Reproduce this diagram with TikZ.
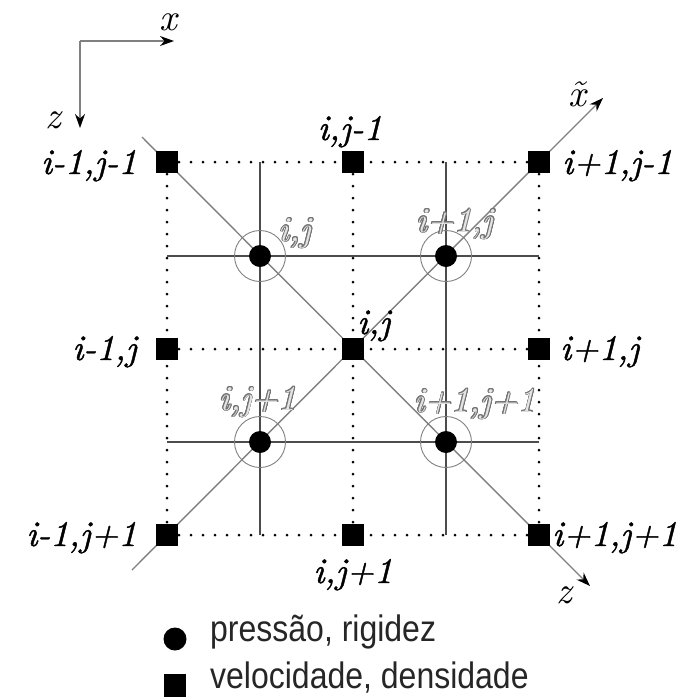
\documentclass[tikz,border=0pt]{standalone}
\usepackage{fontspec}
\usepackage{contour}
\usetikzlibrary{arrows.meta}
\newfontfamily\labfont{lmroman10-italic.otf}[FakeBold=1.2]
\newfontfamily\ghostfont{lmroman10-italic.otf}
\newfontfamily\legfont{Liberation Sans}
\contourlength{0.9pt}
\newcommand{\ghost}[1]{\contour{black!55}{\textcolor{black!10}{#1}}}

\tikzset{
  lab/.style={font={\labfont\fontsize{36}{36}\selectfont}, inner sep=0pt},
  glab/.style={font={\ghostfont\fontsize{35}{35}\selectfont}, inner sep=0pt},
  axlab/.style={font={\ghostfont\fontsize{38}{38}\selectfont}, inner sep=0pt},
  legtext/.style={font={\legfont\fontsize{32}{32}\selectfont}, inner sep=0pt, text=black!85, yscale=1.15},
  vel/.style={fill=black, draw=none, minimum size=22pt, inner sep=0pt},
  pres/.style={circle, fill=black, draw=none, minimum size=22pt, inner sep=0pt},
  ring/.style={circle, draw=black!50, line width=0.9pt, minimum size=51pt, inner sep=0pt},
  dots/.style={line width=3pt, line cap=round, dash pattern=on 0pt off 12pt, black},
  gridline/.style={line width=1.4pt, black!70},
  diag/.style={line width=1.4pt, black!50},
  tip/.style={-{Stealth[length=14pt,width=10pt,black]}},
}

\begin{document}
\begin{tikzpicture}[x=1pt, y=-1pt]
  \useasboundingbox (0,0) rectangle (685,697);

  % velocity/density points
  \path
    (167,162) node[vel] (sqNW) {}
    (353,162) node[vel] (sqN)  {}
    (539,162) node[vel] (sqNE) {}
    (167,349) node[vel] (sqW)  {}
    (353,349) node[vel] (sqC)  {}
    (539,349) node[vel] (sqE)  {}
    (167,535) node[vel] (sqSW) {}
    (353,535) node[vel] (sqS)  {}
    (539,535) node[vel] (sqSE) {};

  % pressure points (placed later on top)
  \coordinate (cNW) at (260,256);
  \coordinate (cNE) at (446,256);
  \coordinate (cSW) at (260,442);
  \coordinate (cSE) at (446,442);

  % dotted grid
  \draw[dots] (sqNW.center) -- (sqNE.center);
  \draw[dots] (sqW.center)  -- (sqE.center);
  \draw[dots] (sqSW.center) -- (sqSE.center);
  \draw[dots] (sqNW.center) -- (sqSW.center);
  \draw[dots] (sqN.center)  -- (sqS.center);
  \draw[dots] (sqNE.center) -- (sqSE.center);

  % solid grid through the pressure points
  \draw[gridline] (cNW |- sqN.center) -- (cNW |- sqS.center);
  \draw[gridline] (cNE |- sqN.center) -- (cNE |- sqS.center);
  \draw[gridline] (sqW.center |- cNW) -- (sqE.center |- cNW);
  \draw[gridline] (sqW.center |- cSW) -- (sqE.center |- cSW);

  % rotated axes
  \coordinate (dNWend) at (142,137);
  \coordinate (zEnd)   at (590,586);
  \coordinate (dSWend) at (132,570);
  \coordinate (xtEnd)  at (603,98);
  \draw[diag] (dNWend) -- (sqSE.center);
  \draw[diag, tip] (sqSE.center) -- (zEnd);
  \draw[diag] (dSWend) -- (sqNE.center);
  \draw[diag, tip] (sqNE.center) -- (xtEnd);

  % rings and pressure points
  \foreach \c in {cNW, cNE, cSW, cSE} {
    \node[ring] at (\c) {};
    \node[pres] at (\c) {};
  }
  % redraw squares on top of the lines
  \foreach \s in {sqNW, sqN, sqNE, sqW, sqC, sqE, sqSW, sqS, sqSE} {
    \node[vel] at (\s.center) {};
  }

  % reference axes
  \coordinate (ax0) at (80,41);
  \coordinate (axX) at (174,41);
  \coordinate (axZ) at (80,128);
  \draw[diag, tip] (ax0) -- (axX);
  \draw[diag, tip] (ax0) -- (axZ);
  \node[axlab] (lx) at (168,22) {x};
  \node[axlab] (lz) at (53,120) {z};
  \node[axlab] (lxt) at (577,94) {\~{x}};
  \node[axlab] (lzt) at (564,595) {z};

  % labels of the velocity points
  \node[lab, anchor=base east] (tNW) at (137,174) {i-1,j-1};
  \node[lab, anchor=base]      (tN)  at (350,140) {i,j-1};
  \node[lab, anchor=base west] (tNE) at (562,174) {i+1,j-1};
  \node[lab, anchor=base east] (tW)  at (137,360) {i-1,j};
  \node[lab, anchor=base west] (tC)  at (357,334) {i,j};
  \node[lab, anchor=base west] (tE)  at (560,360) {i+1,j};
  \node[lab, anchor=base east] (tSW) at (137,546) {i-1,j+1};
  \node[lab, anchor=base]      (tS)  at (353,583) {i,j+1};
  \node[lab, anchor=base west] (tSE) at (552,546) {i+1,j+1};

  % labels of the pressure points
  \node[glab, anchor=base] (gNW) at (295,241) {\ghost{i,j}};
  \node[glab, anchor=base] (gNE) at (455,232) {\ghost{i+1,j}};
  \node[glab, anchor=base] (gSW) at (258,410) {\ghost{i,j+1}};
  \node[glab, anchor=base] (gSE) at (475,412) {\ghost{i+1,j+1}};

  % legend
  \node[pres, minimum size=23pt] (legP) at (175,639) {};
  \node[vel, minimum width=22pt, minimum height=24pt] (legV) at (175,686) {};
  \node[legtext, anchor=mid west] (legPt) at (210,639) {pressão, rigidez};
  \node[legtext, anchor=mid west] (legVt) at (210,686) {velocidade, densidade};
\end{tikzpicture}
\end{document}
